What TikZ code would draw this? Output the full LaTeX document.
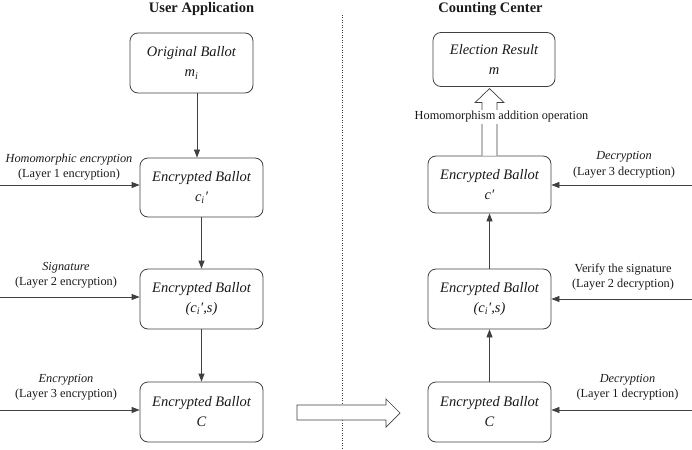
\documentclass[tikz,border=0pt]{standalone}
\usepackage{fontspec}
\setmainfont{Liberation Serif}
\usetikzlibrary{arrows.meta}
\definecolor{ln}{HTML}{404040}
\definecolor{tx}{HTML}{1A1A1A}
\begin{document}
\begin{tikzpicture}[x=1pt,y=-1pt,
  box/.style={draw=ln, line width=0.8pt, rounded corners=8pt, minimum width=123pt, minimum height=60pt, align=center, text=tx, font=\fontsize{14.5}{20}\selectfont\itshape, inner sep=0pt},
  lbl/.style={align=center, text=tx, font=\fontsize{12.3}{15.5}\selectfont, inner sep=0pt},
  arr/.style={draw=ln, line width=0.8pt, -{Triangle[length=8pt,width=6pt]}},
  hol/.style={draw=ln, line width=0.7pt, fill=white},
  ttl/.style={font=\fontsize{14.5}{17}\selectfont\bfseries, text=tx}]
\useasboundingbox (0,0) rectangle (692,449);
% titles
\node[ttl] (t1) at (201.5,9) {User Application};
\node[ttl] (t2) at (490.5,9) {Counting Center};
% divider
\coordinate (d1) at (342,15);
\coordinate (d2) at (342,449);
\draw[ln, line width=0.6pt, dash pattern=on 1pt off 1.5pt] (d1) -- (d2);
% left boxes
\node[box] (ob) at (191.5,63) {Original Ballot\\m\textsubscript{i}};
\node[box, minimum height=59pt] (e1) at (201.5,187.5) {Encrypted Ballot\\c\textsubscript{i}′};
\node[box] (e2) at (201.5,299) {Encrypted Ballot\\(c\textsubscript{i}′,s)};
\node[box] (e3) at (201.5,412) {Encrypted Ballot\\C};
% right boxes
\node[box, minimum width=122pt, minimum height=54pt] (er) at (494,59.5) {Election Result\\m};
\node[box, minimum height=57pt] (r1) at (489.5,184.5) {Encrypted Ballot\\c′};
\node[box] (r2) at (489.5,299) {Encrypted Ballot\\(c\textsubscript{i}′,s)};
\node[box] (r3) at (489.5,412) {Encrypted Ballot\\C};
% left vertical arrows
\draw[arr] ([xshift=5.5pt]ob.south) -- ([xshift=5.5pt]ob.south |- e1.north);
\draw[arr] (e1) -- (e2);
\draw[arr] (e2) -- (e3);
% right vertical arrows
\draw[arr] (r3) -- (r2);
\draw[arr] (r2) -- (r1);
% left inputs
\coordinate (l1) at (0,185);
\coordinate (l2) at (0,297);
\coordinate (l3) at (0,410);
\draw[arr] (l1) -- (l1 -| e1.west);
\draw[arr] (l2) -- (l2 -| e2.west);
\draw[arr] (l3) -- (l3 -| e3.west);
\node[lbl] (la1) at (69,167) {\textit{Homomorphic encryption}\\(Layer 1 encryption)};
\node[lbl] (la2) at (66,275.5) {\textit{Signature}\\(Layer 2 encryption)};
\node[lbl] (la3) at (66,387.5) {\textit{Encryption}\\(Layer 3 encryption)};
% right inputs
\coordinate (q1) at (692,185);
\coordinate (q2) at (692,299);
\coordinate (q3) at (692,410);
\draw[arr] (q1) -- (q1 -| r1.east);
\draw[arr] (q2) -- (q2 -| r2.east);
\draw[arr] (q3) -- (q3 -| r3.east);
\node[lbl] (ra1) at (624,165) {\textit{Decryption}\\(Layer 3 decryption)};
\node[lbl] (ra2) at (623,277) {Verify the signature\\(Layer 2 decryption)};
\node[lbl] (ra3) at (627.5,387.5) {\textit{Decryption}\\(Layer 1 decryption)};
% hollow up arrow
\draw[hol] ([xshift=-7.5pt]r1.north) -- ++(0,-53) -- ++(-7,0) -- ++(14.5,-14) -- ++(14.5,14) -- ++(-7,0) -- ++(0,53);
\node[lbl, fill=white, inner sep=1pt] (hl) at (501.5,117) {Homomorphism addition operation};
% hollow right arrow
\draw[hol] (297,405) -- (386,405) -- (386,399) -- (400,413) -- (386,427) -- (386,420) -- (297,420) -- cycle;
\end{tikzpicture}
\end{document}
